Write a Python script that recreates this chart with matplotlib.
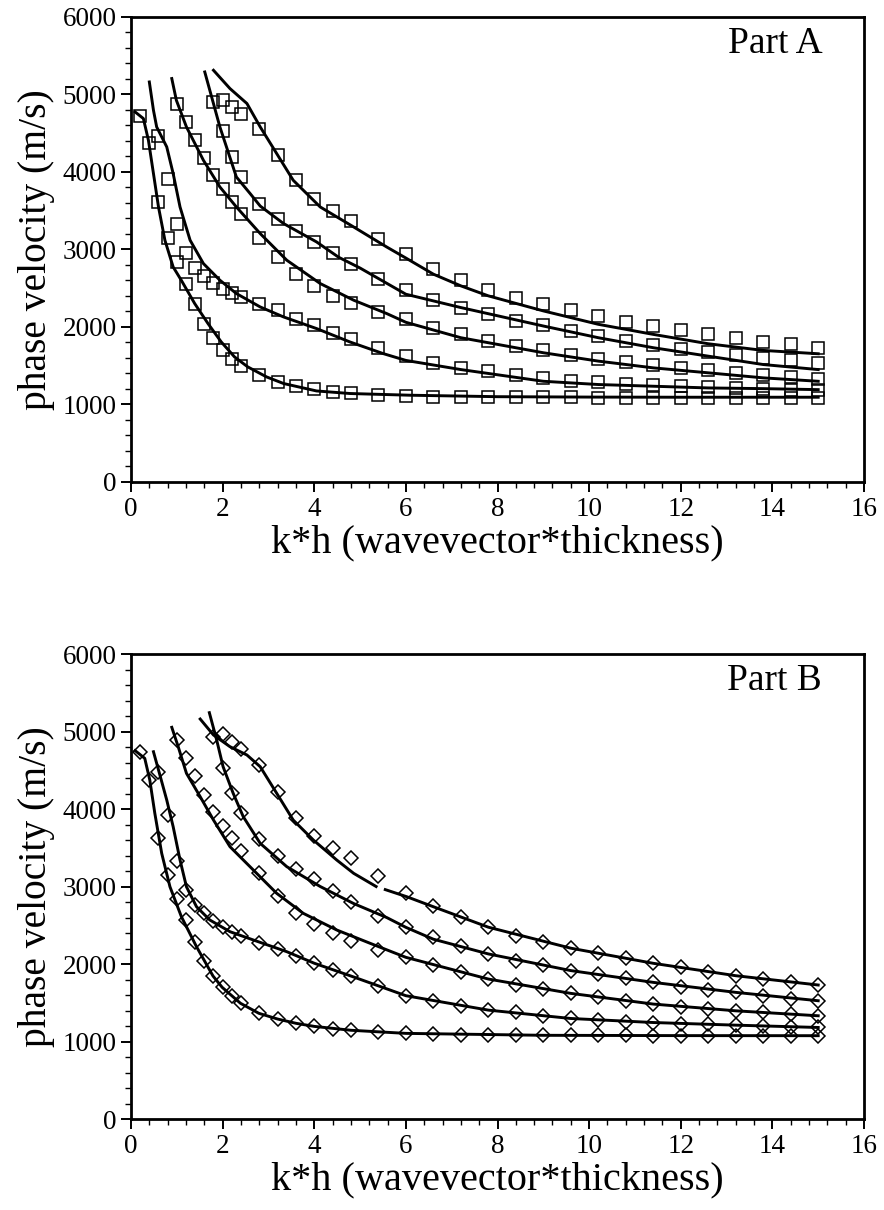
import numpy as np
import matplotlib.pyplot as plt
from matplotlib.ticker import MultipleLocator

plt.rcParams['font.family'] = ['Liberation Serif', 'DejaVu Serif']

# k*h values of the measured points (step 0.2, then 0.4, then 0.6)
kh = [0.2, 0.4, 0.6, 0.8, 1.0, 1.2, 1.4, 1.6, 1.8, 2.0, 2.2, 2.4,
      2.8, 3.2, 3.6, 4.0, 4.4, 4.8,
      5.4, 6.0, 6.6, 7.2, 7.8, 8.4, 9.0, 9.6, 10.2, 10.8, 11.4, 12.0,
      12.6, 13.2, 13.8, 14.4, 15.0]
# index in kh where each mode's points begin
mode_start = [0, 2, 4, 8, 9]

# Part A, measured phase velocity (m/s), squares
a_mode1 = [4719, 4374, 3613, 3145, 2839, 2560, 2302, 2044, 1863, 1708, 1592, 1493,
           1377, 1290, 1235, 1196, 1161, 1148,
           1128, 1115, 1100, 1095, 1092, 1090, 1090, 1090, 1088, 1088, 1088, 1087,
           1087, 1086, 1086, 1085, 1085]
a_mode2 = [4460, 3915, 3334, 2955, 2766, 2654, 2568, 2495, 2439, 2387,
           2302, 2215, 2108, 2022, 1923, 1850,
           1729, 1622, 1537, 1472, 1428, 1377, 1343, 1308, 1290, 1265, 1248, 1235,
           1222, 1213, 1200, 1190, 1180]
a_mode3 = [4873, 4645, 4409, 4186, 3957, 3777, 3613, 3463,
           3154, 2903, 2680, 2525, 2396, 2310,
           2194, 2108, 1982, 1904, 1818, 1753, 1697, 1636, 1590, 1550, 1515, 1472,
           1445, 1408, 1380, 1355, 1330]
a_mode4 = [4903, 4530, 4194, 3935,
           3592, 3399, 3239, 3097, 2955, 2818,
           2625, 2474, 2350, 2250, 2164, 2080, 2020, 1945, 1883, 1818, 1766, 1715,
           1680, 1636, 1601, 1568, 1537]
a_mode5 = [4934, 4839, 4745,
           4560, 4215, 3893, 3657, 3497, 3368,
           3141, 2947, 2747, 2604, 2474, 2379, 2293, 2215, 2142, 2068, 2012, 1956,
           1904, 1861, 1809, 1774, 1732]

# Part A, calculated curves
a_line1_kh = [0.09, 0.27, 0.38, 0.49, 0.6, 0.74, 0.92, 1.1, 1.39, 1.68, 1.97, 2.26,
              2.55, 2.96, 3.33, 4.05, 4.78, 6.09, 8.0, 10.0, 12.0, 15.0]
a_line1_v = [4774, 4689, 4409, 3979, 3548, 3119, 2774, 2600, 2302, 2044, 1806, 1613,
             1484, 1355, 1270, 1174, 1141, 1119, 1100, 1095, 1093, 1093]
a_line2_kh = [0.4, 0.49, 0.56, 0.78, 0.92, 1.07, 1.29, 1.58, 1.94, 2.3, 2.82, 3.33,
              4.05, 4.78, 5.5, 6.0, 7.2, 9.0, 10.2, 11.4, 12.6, 13.8, 15.0]
a_line2_v = [5161, 4796, 4581, 4323, 3979, 3548, 3119, 2818, 2603, 2431, 2258, 2129,
             1979, 1806, 1657, 1568, 1450, 1299, 1257, 1235, 1213, 1204, 1191]
a_line3_kh = [0.89, 0.99, 1.21, 1.58, 1.94, 2.3, 2.82, 3.4, 4.13, 4.86, 5.58, 6.0,
              7.2, 9.0, 10.2, 11.4, 12.6, 13.8, 15.0]
a_line3_v = [5205, 4925, 4581, 4151, 3806, 3548, 3205, 2861, 2560, 2345, 2173, 2060,
             1861, 1667, 1559, 1472, 1408, 1343, 1299]
a_line4_kh = [1.61, 1.94, 2.3, 2.6, 2.82, 3.33, 4.05, 4.53, 5.0, 6.0, 7.2, 9.0,
              10.2, 11.4, 12.6, 13.8, 15.0]
a_line4_v = [5290, 4581, 3935, 3721, 3560, 3334, 3097, 2900, 2760, 2422, 2250, 2012,
             1861, 1732, 1623, 1515, 1450]
a_line5_kh = [1.8, 2.16, 2.53, 2.82, 3.18, 3.54, 4.13, 4.86, 5.58, 6.0, 6.6, 7.2,
              7.8, 9.0, 10.2, 11.4, 12.6, 13.8, 15.0]
a_line5_v = [5312, 5076, 4883, 4581, 4237, 3893, 3548, 3290, 3032, 2889, 2681, 2530,
             2401, 2207, 2034, 1904, 1783, 1697, 1654]

# Part B, measured phase velocity (m/s), diamonds
b_mode1 = [4739, 4380, 3622, 3148, 2840, 2568, 2288, 2043, 1845, 1699, 1587, 1493,
           1364, 1290, 1235, 1195, 1165, 1145,
           1120, 1105, 1095, 1090, 1085, 1082, 1080, 1080, 1078, 1078, 1077, 1077,
           1076, 1076, 1075, 1075, 1075]
b_mode2 = [4481, 3922, 3329, 2955, 2761, 2654, 2559, 2482, 2417, 2361,
           2275, 2200, 2105, 2010, 1925, 1845,
           1720, 1591, 1526, 1461, 1405, 1375, 1332, 1297, 1276, 1258, 1245, 1232,
           1224, 1211, 1203, 1190, 1181]
b_mode3 = [4890, 4662, 4426, 4181, 3965, 3781, 3630, 3458,
           3170, 2877, 2662, 2516, 2396, 2297,
           2181, 2086, 1987, 1893, 1806, 1733, 1677, 1621, 1569, 1526, 1483, 1440,
           1418, 1396, 1375, 1354, 1332]
b_mode4 = [4933, 4533, 4210, 3944,
           3611, 3394, 3222, 3093, 2946, 2804,
           2619, 2473, 2346, 2238, 2130, 2044, 1987, 1915, 1871, 1819, 1763, 1707,
           1665, 1634, 1591, 1547, 1526]
b_mode5 = [4964, 4868, 4770,
           4562, 4224, 3880, 3652, 3493, 3364,
           3135, 2920, 2745, 2605, 2475, 2367, 2281, 2204, 2139, 2074, 2009, 1957,
           1901, 1849, 1806, 1763, 1729]

# Part B, calculated curves (mode 5 has a small break near kh = 5.4)
b_line1_kh = [0.09, 0.3, 0.41, 0.52, 0.67, 0.85, 1.1, 1.43, 1.79, 1.99, 2.39, 2.79,
              3.2, 3.6, 4.0, 4.8, 6.0, 9.0, 12.0, 15.0]
b_line1_v = [4753, 4654, 4374, 3944, 3428, 2997, 2610, 2223, 1845, 1699, 1493, 1364,
             1290, 1235, 1195, 1145, 1105, 1080, 1076, 1075]
b_line2_kh = [0.49, 0.62, 0.78, 0.92, 1.07, 1.21, 1.43, 1.72, 2.16, 2.67, 3.4, 4.0,
              4.8, 6.0, 7.8, 9.6, 11.4, 13.2, 15.0]
b_line2_v = [4739, 4461, 4116, 3772, 3342, 2997, 2739, 2568, 2417, 2310, 2159, 2010,
             1845, 1591, 1405, 1297, 1245, 1211, 1181]
b_line3_kh = [0.89, 1.03, 1.21, 1.51, 1.8, 2.16, 2.67, 3.18, 3.76, 4.49, 5.22, 6.0,
              7.8, 9.6, 11.4, 13.2, 15.0]
b_line3_v = [5054, 4804, 4461, 4159, 3858, 3514, 3213, 2912, 2654, 2439, 2267, 2086,
             1806, 1621, 1483, 1396, 1332]
b_line4_kh = [1.71, 1.87, 2.01, 2.23, 2.45, 2.82, 3.4, 4.13, 4.86, 5.58, 6.0, 6.6,
              7.8, 9.6, 11.4, 13.2, 15.0]
b_line4_v = [5243, 4890, 4546, 4203, 3901, 3557, 3256, 3000, 2780, 2600, 2473, 2320,
             2130, 1915, 1763, 1634, 1526]
b_line5_kh = [1.51, 1.8, 2.16, 2.53, 2.82, 3.18, 3.54, 3.98, 4.49, 4.86, 5.35, np.nan,
              5.55, 6.02, 6.6, 7.8, 9.6, 11.4, 13.2, 15.0]
b_line5_v = [5161, 4955, 4804, 4697, 4546, 4203, 3858, 3600, 3342, 3170, 3000, np.nan,
             2960, 2868, 2739, 2475, 2204, 2009, 1849, 1729]


def draw_panel(ax, modes, lines, marker, ms, tag):
    for lx, lv in lines:
        ax.plot(lx, lv, color='black', lw=2.1)
    for start, v in zip(mode_start, modes):
        ax.plot(kh[start:], v, ls='none', marker=marker, ms=ms,
                mfc='none', mec='black', mew=1.1)

    ax.set_xlim(0, 16)
    ax.set_ylim(0, 6000)
    ax.xaxis.set_major_locator(MultipleLocator(2))
    ax.xaxis.set_minor_locator(MultipleLocator(0.4))
    ax.yaxis.set_major_locator(MultipleLocator(1000))
    ax.yaxis.set_minor_locator(MultipleLocator(200))
    ax.tick_params(which='major', direction='out', length=7, width=1.4,
                   labelsize=19.5, top=False, right=False)
    ax.tick_params(which='minor', direction='out', length=4, width=1.0,
                   top=False, right=False)
    for s in ax.spines.values():
        s.set_linewidth(2.0)

    ax.set_xlabel('k*h (wavevector*thickness)', fontsize=29, labelpad=2)
    ax.set_ylabel('phase velocity (m/s)', fontsize=28.5, labelpad=5)
    ax.text(0.943, 0.943, tag, transform=ax.transAxes, ha='right', va='center',
            fontsize=27)


fig = plt.figure(figsize=(8.84, 12.1), dpi=100)
ax_a = fig.add_axes([0.1482, 0.6017, 0.8292, 0.3843])
ax_b = fig.add_axes([0.1482, 0.0752, 0.8292, 0.3843])

draw_panel(ax_a, [a_mode1, a_mode2, a_mode3, a_mode4, a_mode5],
           [(a_line1_kh, a_line1_v), (a_line2_kh, a_line2_v), (a_line3_kh, a_line3_v),
            (a_line4_kh, a_line4_v), (a_line5_kh, a_line5_v)],
           's', 8.5, 'Part A')
draw_panel(ax_b, [b_mode1, b_mode2, b_mode3, b_mode4, b_mode5],
           [(b_line1_kh, b_line1_v), (b_line2_kh, b_line2_v), (b_line3_kh, b_line3_v),
            (b_line4_kh, b_line4_v), (b_line5_kh, b_line5_v)],
           'D', 7.5, 'Part B')

fig.savefig('out.png', dpi=100)
